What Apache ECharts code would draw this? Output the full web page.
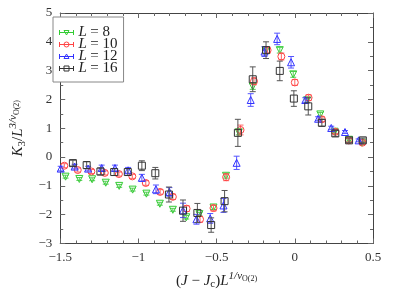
<!DOCTYPE html>
<html><head><meta charset="utf-8">
<script src="https://cdn.jsdelivr.net/npm/echarts@6/dist/echarts.min.js"></script>
<style>html,body{margin:0;padding:0;background:#fff}#c{width:395px;height:295px}</style>
</head><body><div id="c"></div>
<script>
// L = 8
const L8x = [-1.466,-1.378,-1.296,-1.209,-1.123,-1.037,-0.949,-0.863,-0.780,-0.694,-0.610,-0.520,-0.440,-0.358,-0.269,-0.184,-0.096,-0.010,0.078,0.163,0.255,0.347,0.429];
const L8y = [-0.68,-0.76,-0.77,-0.89,-1.00,-1.13,-1.27,-1.62,-1.83,-2.09,-1.98,-1.75,-0.65,0.86,2.45,3.71,3.71,2.87,1.97,1.48,0.88,0.60,0.50];
const L8e = [0.05,0.05,0.05,0.05,0.05,0.05,0.05,0.05,0.05,0.06,0.06,0.07,0.08,0.09,0.1,0.1,0.1,0.1,0.08,0.07,0.06,0.05,0.05];
// L = 10
const L10x = [-1.474,-1.388,-1.301,-1.215,-1.125,-1.039,-0.953,-0.861,-0.780,-0.692,-0.606,-0.520,-0.439,-0.347,-0.261,-0.174,-0.086,0.0,0.088,0.173,0.259,0.345,0.432];
const L10y = [-0.30,-0.45,-0.50,-0.55,-0.59,-0.67,-0.90,-1.21,-1.38,-1.79,-2.16,-1.77,-0.70,0.94,2.63,3.71,3.49,2.59,2.06,1.31,0.88,0.58,0.50];
const L10e = [0.07,0.07,0.07,0.07,0.07,0.07,0.08,0.08,0.09,0.1,0.1,0.1,0.12,0.17,0.12,0.1,0.12,0.1,0.1,0.08,0.07,0.06,0.06];
// L = 12
const L12x = [-1.497,-1.408,-1.322,-1.235,-1.150,-1.066,-0.978,-0.888,-0.802,-0.715,-0.629,-0.541,-0.456,-0.372,-0.282,-0.194,-0.113,-0.024,0.067,0.149,0.233,0.321,0.408];
const L12y = [-0.40,-0.33,-0.40,-0.38,-0.38,-0.46,-0.72,-1.12,-1.21,-1.85,-2.16,-2.13,-1.68,-0.20,1.98,3.66,4.10,3.29,1.98,1.33,1.01,0.87,0.58];
const L12e = [0.08,0.08,0.08,0.1,0.1,0.1,0.12,0.15,0.15,0.25,0.17,0.17,0.24,0.23,0.22,0.17,0.2,0.2,0.08,0.07,0.06,0.05,0.05];
// L = 16
const L16x = [-1.419,-1.331,-1.243,-1.155,-1.068,-0.978,-0.892,-0.805,-0.715,-0.623,-0.535,-0.449,-0.364,-0.269,-0.184,-0.096,-0.006,0.086,0.173,0.259,0.347,0.435];
const L16y = [-0.21,-0.28,-0.50,-0.52,-0.52,-0.30,-0.56,-1.30,-1.86,-1.94,-2.36,-1.53,0.84,2.70,3.71,2.99,2.03,1.76,1.19,0.82,0.58,0.58];
const L16e = [0.1,0.12,0.12,0.12,0.12,0.17,0.2,0.26,0.37,0.33,0.25,0.37,0.47,0.43,0.29,0.34,0.27,0.3,0.12,0.1,0.08,0.08];

const xTickVals = [-1.5,-1,-0.5,0,0.5];
const yTickVals = [-3,-2,-1,0,1,2,3,4,5];
const names = ['L8','L10','L12','L16'];
const legendNums = ['8','10','12','16'];

const colors = ['#33cc33','#ff4444','#3333ff','#333333'];
const errColors = ['#55cc55','#ff6666','#5555ff','#555555'];
const symbols = ['triangle','circle','triangle','rect'];
const rots = [180,0,0,0];
const sets = [[L8x,L8y,L8e],[L10x,L10y,L10e],[L12x,L12y,L12e],[L16x,L16y,L16e]];

const icons = [
 'path://M0,3L14,3M0,0.5L0,5.5M14,0.5L14,5.5M4.5,1L9.5,1L7,5.5Z',
 'path://M0,3L14,3M0,0.5L0,5.5M14,0.5L14,5.5M4.5,3A2.5,2.5 0 1,0 9.5,3A2.5,2.5 0 1,0 4.5,3Z',
 'path://M0,3L14,3M0,0.5L0,5.5M14,0.5L14,5.5M4.5,5L9.5,5L7,0.5Z',
 'path://M0,3L14,3M0,0.5L0,5.5M14,0.5L14,5.5M4.5,0.5L9.5,0.5L9.5,5.5L4.5,5.5Z'
];

const font = 'Liberation Serif';
const fmt = v => (v < 0 ? '\u2212' + Math.abs(v) : String(v));

const series = [];
sets.forEach((s, k) => {
  const data = s[0].map((x, i) => [x, s[1][i], s[2][i]]);
  series.push({
    type: 'custom', name: names[k] + 'err', z: 2 + k * 2,
    data: data, encode: {x: 0, y: 1}, silent: true,
    renderItem: function (params, api) {
      const x = api.value(0), y = api.value(1), e = api.value(2);
      const lo = api.coord([x, y - e]), hi = api.coord([x, y + e]);
      const st = {stroke: errColors[k], lineWidth: 1};
      return {type: 'group', children: [
        {type: 'line', shape: {x1: lo[0], y1: lo[1], x2: hi[0], y2: hi[1]}, style: st},
        {type: 'line', shape: {x1: lo[0] - 3, y1: lo[1], x2: lo[0] + 3, y2: lo[1]}, style: st},
        {type: 'line', shape: {x1: hi[0] - 3, y1: hi[1], x2: hi[0] + 3, y2: hi[1]}, style: st}
      ]};
    }
  });
  series.push({
    type: 'scatter', name: names[k], z: 3 + k * 2,
    data: data.map(d => [d[0], d[1]]),
    symbol: symbols[k], symbolRotate: rots[k],
    symbolSize: 7,
    itemStyle: {color: 'rgba(255,255,255,0)', borderColor: colors[k], borderWidth: 1, opacity: 1},
    emphasis: {disabled: true}
  });
});

const axCommon = {
  axisLine: {show: true, onZero: false, lineStyle: {color: '#444', width: 1}},
  axisTick: {show: true, inside: true, length: 5, lineStyle: {color: '#666'}},
  splitLine: {show: false}
};

const nameRich = {
  p: {fontFamily: font, fontSize: 15},
  i: {fontFamily: font, fontSize: 15, fontStyle: 'italic'},
  sub: {fontFamily: font, fontSize: 11, padding: [7, 0, 0, 0]},
  sup: {fontFamily: font, fontSize: 11, fontStyle: 'italic', padding: [0, 0, 10, 0]},
  ssub: {fontFamily: font, fontSize: 8, padding: [0, 0, 4, 0]}
};

const chart = echarts.init(document.getElementById('c'), null, {renderer: 'canvas'});
chart.setOption({
  animation: false,
  backgroundColor: '#fff',
  grid: {left: 47, right: 22, top: 13, bottom: 43, containLabel: false},
  legend: {
    left: 53, top: 17, orient: 'vertical',
    padding: [8, 6, 6, 6], itemGap: -3, itemWidth: 14, itemHeight: 6,
    borderColor: '#888', borderWidth: 1, backgroundColor: '#fff',
    data: names.map((n, k) => ({name: n, icon: icons[k],
      itemStyle: {color: 'rgba(255,255,255,0)', borderColor: colors[k], borderWidth: 1}})),
    formatter: function (n) { return '{i|L} {n|= ' + legendNums[names.indexOf(n)] + '}'; },
    textStyle: {fontFamily: font, fontSize: 14, color: '#222', lineHeight: 12,
      rich: {i: {fontStyle: 'italic', fontFamily: font, fontSize: 15, lineHeight: 12},
             n: {fontFamily: font, fontSize: 15, lineHeight: 12}}}
  },
  xAxis: [
    {type: 'value', min: -1.5, max: 0.5, interval: 0.5,
      axisLine: axCommon.axisLine, axisTick: axCommon.axisTick, splitLine: axCommon.splitLine,
      minorTick: {show: true, splitNumber: 5, length: 3, lineStyle: {color: '#666'}},
      axisLabel: {formatter: fmt, fontFamily: font, fontSize: 13, color: '#333', margin: 8},
      name: '{p|(}{i|J}{p| \u2212 }{i|J}{sub|c}{p|)}{i|L}{sup|1/\u03bd}{ssub|O(2)}',
      nameLocation: 'middle', nameGap: 27,
      nameTextStyle: {fontFamily: font, color: '#222', rich: nameRich}
    },
    {type: 'value', position: 'top', min: -1.5, max: 0.5, interval: 0.5,
      axisLine: axCommon.axisLine, axisTick: axCommon.axisTick,
      minorTick: {show: true, splitNumber: 5, length: 3, lineStyle: {color: '#666'}},
      axisLabel: {show: false}, splitLine: {show: false}}
  ],
  yAxis: [
    {type: 'value', min: -3, max: 5, interval: 1,
      axisLine: axCommon.axisLine, axisTick: axCommon.axisTick, splitLine: {show: false},
      minorTick: {show: true, splitNumber: 2, length: 3, lineStyle: {color: '#666'}},
      axisLabel: {formatter: fmt, fontFamily: font, fontSize: 13, color: '#333', margin: 8},
      name: '{i|K}{sub|3}{p|/}{i|L}{sup|3/\u03bd}{ssub|O(2)}',
      nameLocation: 'middle', nameGap: 26, nameRotate: 90,
      nameTextStyle: {fontFamily: font, color: '#222', rich: nameRich}
    },
    {type: 'value', position: 'right', min: -3, max: 5, interval: 1,
      axisLine: axCommon.axisLine, axisTick: axCommon.axisTick, splitLine: {show: false},
      minorTick: {show: true, splitNumber: 2, length: 3, lineStyle: {color: '#666'}},
      axisLabel: {show: false}}
  ],
  series: series
});
</script></body></html>
